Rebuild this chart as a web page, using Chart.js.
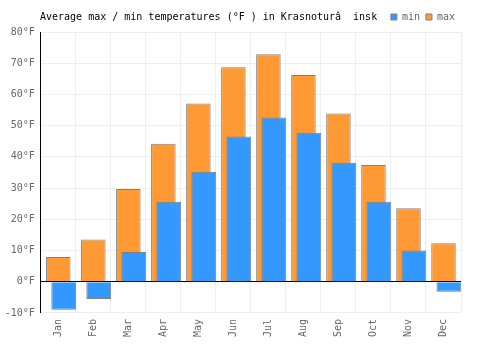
<!DOCTYPE html>
<html>
<head>
<meta charset="utf-8">
<script src="https://cdn.jsdelivr.net/npm/chart.js@4.4.1/dist/chart.umd.min.js"></script>
<style>
  html, body { margin: 0; padding: 0; background: #fff; }
  #wrap { width: 500px; height: 350px; }
</style>
</head>
<body>
<div id="wrap"><canvas id="myChart"></canvas></div>
<script>
const titleText = "Average max / min temperatures (°F ) in Krasnoturâ  insk";
const months = ["Jan", "Feb", "Mar", "Apr", "May", "Jun", "Jul", "Aug", "Sep", "Oct", "Nov", "Dec"];
const minTemps = [-9.0, -5.5, 9.5, 25.6, 35.2, 46.5, 52.6, 47.7, 38.1, 25.6, 10.0, -3.2];
const maxTemps = [7.9, 13.5, 29.7, 44.2, 57.1, 68.7, 72.9, 66.2, 53.9, 37.4, 23.5, 12.3];
const yTickValues = [-10, 0, 10, 20, 30, 40, 50, 60, 70, 80];

const font = { family: "'DejaVu Sans Mono', monospace", size: 10 };

// title sits on the same row as the legend, so draw it by hand
const inlineTitle = {
    id: 'inlineTitle',
    afterDraw(chart) {
        const ctx = chart.ctx;
        ctx.save();
        ctx.font = "10px 'DejaVu Sans Mono', monospace";
        ctx.fillStyle = '#000';
        ctx.textBaseline = 'middle';
        ctx.fillText(titleText, 40, 17);
        ctx.restore();
    }
};

const ctx = document.getElementById('myChart');
new Chart(ctx, {
    type: 'bar',
    plugins: [inlineTitle],
    data: {
        labels: months,
        datasets: [
            {
                label: 'min',
                data: minTemps.map((v, i) => ({ x: i, y: v })),
                xAxisID: 'x2',
                backgroundColor: '#3399ff',
                borderColor: '#808080',
                borderWidth: 1,
                grouped: false,
                categoryPercentage: 1,
                barPercentage: 0.71,
            },
            {
                label: 'max',
                data: maxTemps,
                xAxisID: 'x',
                backgroundColor: '#ff9933',
                borderColor: '#808080',
                borderWidth: 1,
                grouped: false,
                categoryPercentage: 1,
                barPercentage: 0.7,
            }
        ]
    },
    options: {
        responsive: true,
        maintainAspectRatio: false,
        animation: false,
        layout: { padding: { left: -1.3, right: 39, top: 6, bottom: 7 } },
        plugins: {
            title: { display: false },
            tooltip: { enabled: false },
            legend: {
                display: true,
                align: 'end',
                labels: { boxWidth: 6, boxHeight: 6, padding: 6, color: '#666', font: font }
            }
        },
        scales: {
            x: {
                type: 'category',
                offset: true,
                grid: { offset: true, color: '#eeeeee', drawTicks: false },
                border: { color: '#eeeeee' },
                ticks: { minRotation: 90, maxRotation: 90, padding: 6, color: '#666', font: font }
            },
            // hidden axis that nudges the min bars to the right
            x2: {
                type: 'linear',
                display: false,
                offset: false,
                grid: { offset: false },
                min: -0.655,
                max: 11.345,
                ticks: { stepSize: 1, includeBounds: false }
            },
            y: {
                min: -10,
                max: 80,
                afterBuildTicks: axis => { axis.ticks = yTickValues.map(v => ({ value: v })); },
                grid: {
                    color: c => c.tick && c.tick.value === 0 ? '#000' : '#eeeeee',
                    drawTicks: false
                },
                border: { color: '#000' },
                ticks: { padding: 6, color: '#666', font: font, callback: v => v + '°F' }
            }
        }
    }
});
</script>
</body>
</html>
